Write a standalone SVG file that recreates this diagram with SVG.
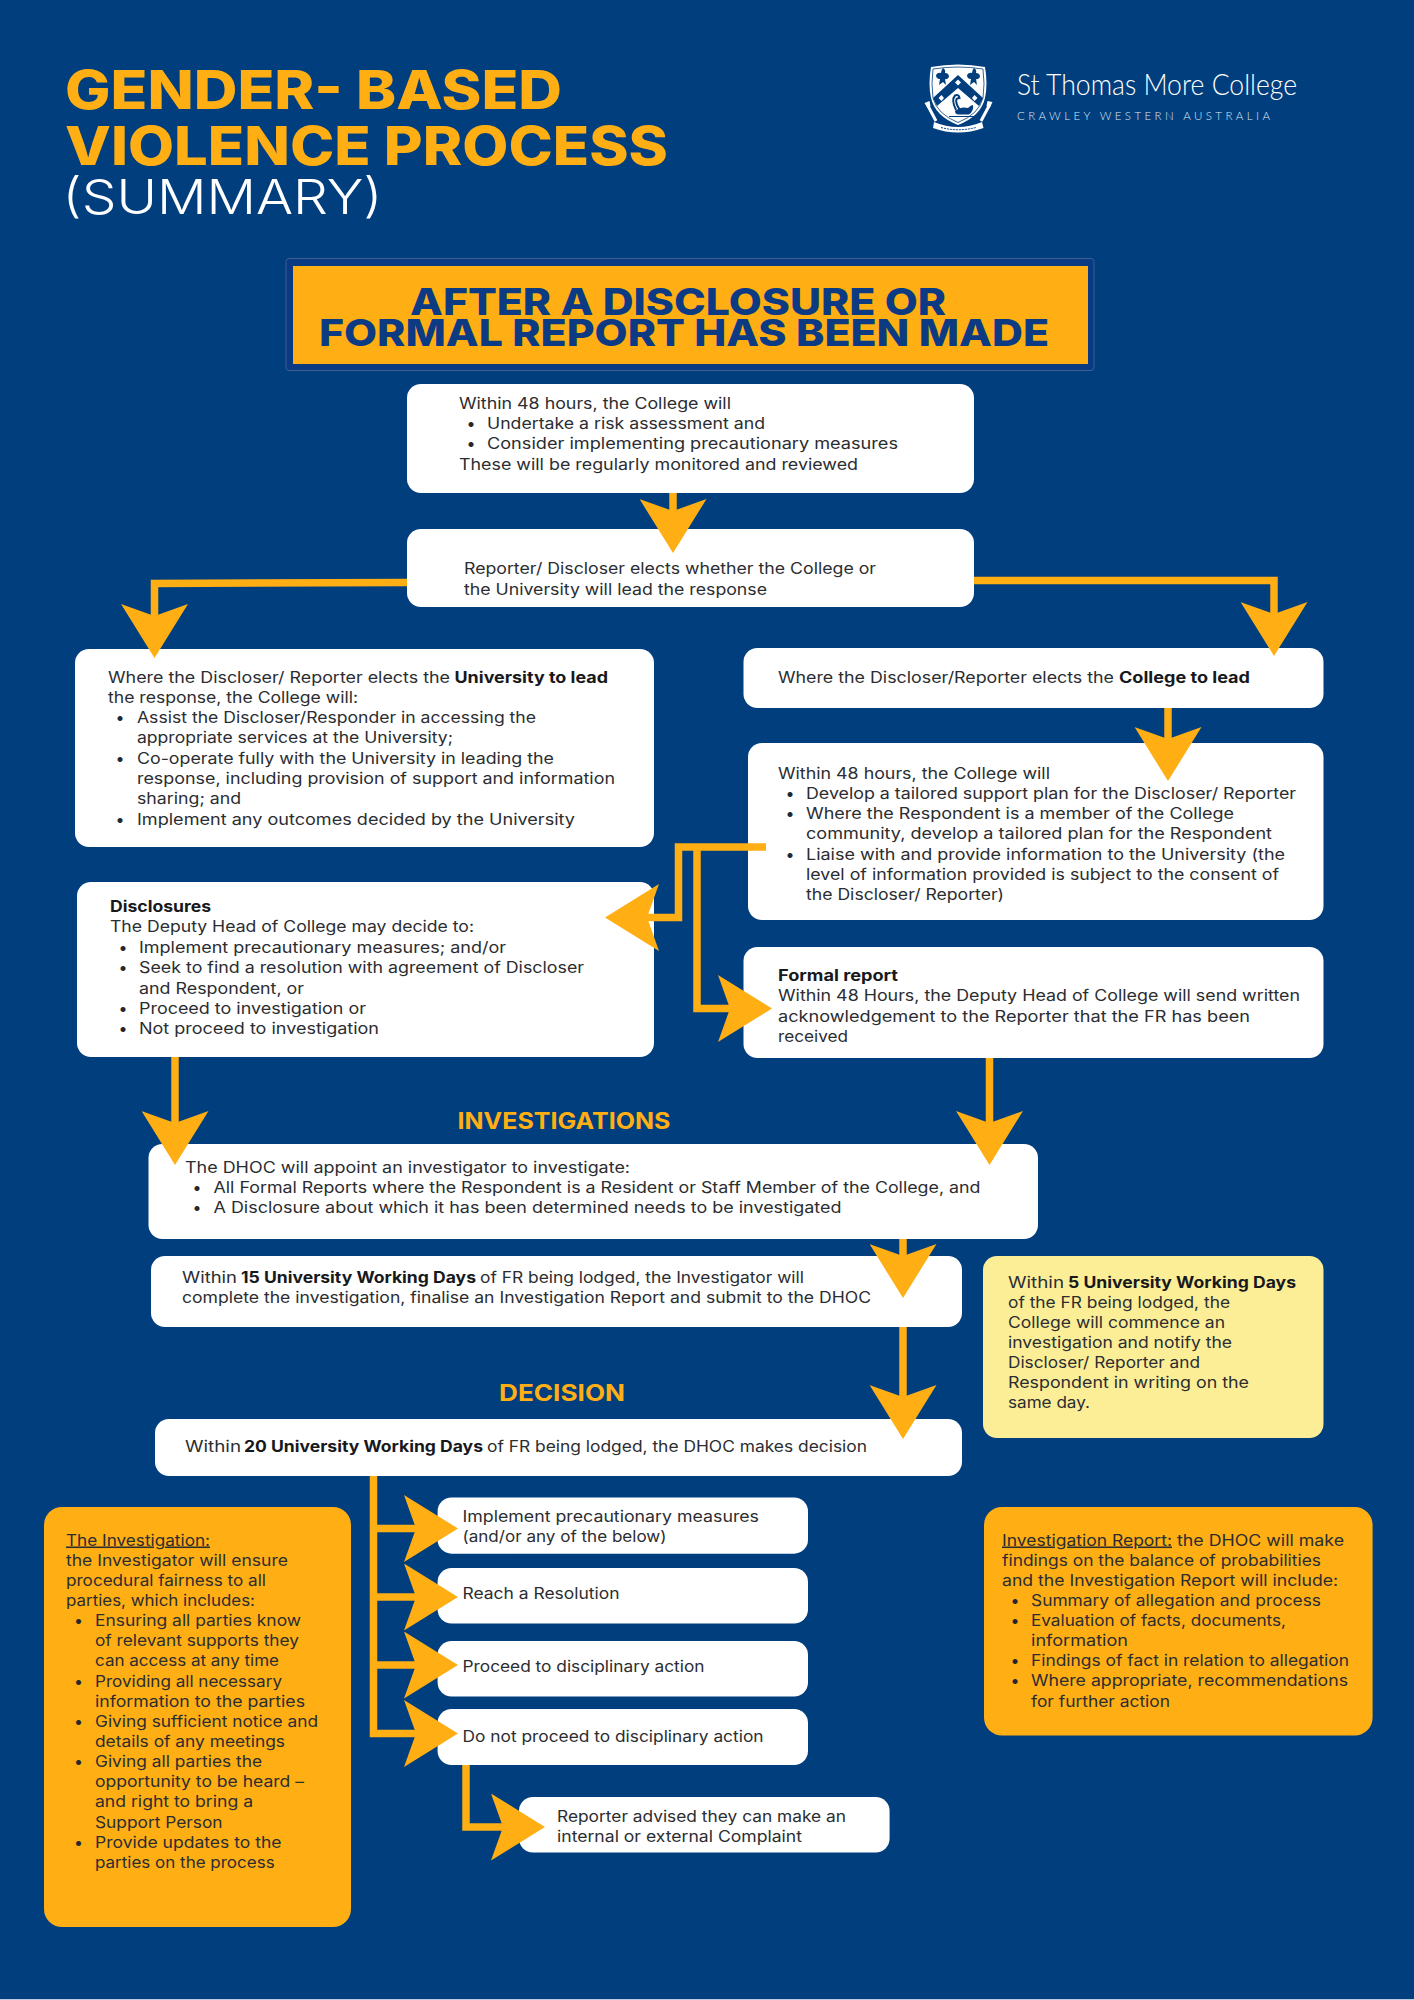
<svg xmlns="http://www.w3.org/2000/svg" width="1414" height="2000" viewBox="0 0 1414 2000">
<style>
text{font-family:"Inter","Noto Sans","Liberation Sans",sans-serif}
.t{font-size:15.5px;font-weight:400;fill:#2b2d31}
.b{font-size:15.5px;font-weight:700;fill:#17191c}
.u{text-decoration:underline}
.dot{font-size:16px;fill:#24272b;text-anchor:middle}
.box{fill:#fff}
.org{fill:#ffae14}
.yel{fill:#fbee97}
.h1{font-size:53.5px;font-weight:800;fill:#ffae14}
.h2{font-size:37px;font-weight:800;fill:#0c3b84}
.h3{font-size:22.5px;font-weight:700;fill:#ffae14}
.c{fill:none;stroke:#ffae14;stroke-width:7.5;stroke-linejoin:miter}
.nv{fill:#003e7e}
.wh{fill:#fff}
</style>
<defs>
<marker id="ah" markerUnits="userSpaceOnUse" viewBox="0 0 54 67" markerWidth="54" markerHeight="67" refX="12" refY="33.5" orient="auto"><path d="M0,0 L54,33.5 L0,67 L12,33.5z" fill="#ffae14"/></marker>
</defs>
<rect width="1414" height="2000" fill="#003e7e"/>
<rect y="1999" width="1414" height="1" fill="#b9cbe0"/>

<g id="title">
<text class="h1" x="65" y="108.500" textLength="497" lengthAdjust="spacingAndGlyphs">GENDER- BASED</text>
<text class="h1" x="65" y="164.500" textLength="603" lengthAdjust="spacingAndGlyphs">VIOLENCE PROCESS</text>
<text x="62.500" y="214" font-size="48" font-weight="300" fill="#fff" textLength="320" lengthAdjust="spacingAndGlyphs">(SUMMARY)</text>
</g>

<g id="logo">
<path class="wh" d="M931,67 Q958,62 985,67 Q988,84 985,98 Q981,116 958,125 Q935,116 931,98 Q928,84 931,67z"/>
<path d="M933,69 Q958,65 983,69 Q985,84 983,98 Q979,114 958,122.500 Q937,114 933,98 Q931,84 933,69z" fill="none" stroke="#003e7e" stroke-width=".8"/>
<path class="nv" d="M958,75 L983,98 L979,106 L958,88 L937,106 L933,98z"/>
<path class="wh" d="M958,79.500 l3,3 l-3,3 l-3,-3z M941.500,95 l2.500,3 l-2.500,3 l-3,-3z M974.500,95 l3,3 l-3,3 l-2.500,-3z"/>
<path class="nv" d="M943,68 q3,2 2,5 q4,0 4,4 q-2,3 -4,2 l1,6 l-3,-3 l-4,3 l1,-6 q-4,0 -4,-4 q2,-3 5,-2 q0,-3 2,-5z M974,68 q3,2 2,5 q4,0 4,4 q-2,3 -4,2 l1,6 l-3,-3 l-4,3 l1,-6 q-4,0 -4,-4 q2,-3 5,-2 q0,-3 2,-5z"/>
<path d="M956,110 Q951,100 955,95.500 Q959,94 959.500,98 Q957,98 956.500,99 Q955,103 960,110" fill="none" stroke="#003e7e" stroke-width="2"/>
<path class="nv" d="M955,111 Q961,106 968,108 Q971,105 973,105 Q974,111 969,114.500 L958,114.500 Q955,114 955,111z"/>
<path d="M949,116.500 H974" stroke="#003e7e" stroke-width="1"/>
<path d="M927,104 L936,121 M990,104 L981,121" fill="none" stroke="#fff" stroke-width="3"/>
<path class="wh" d="M924.500,103 l5,-2 l1,5 l-3,2z M992.500,102 l-5,-1 l-1,5 l3,2z"/>
<path class="wh" d="M934,122 Q958,132 982,122 L983.500,128 Q958,137 933,128z"/>
<path d="M941,127.500 Q958,132 976,127.500" fill="none" stroke="#003e7e" stroke-width="1" stroke-dasharray="2 1"/>
<text x="1017" y="95" font-size="29" font-weight="300" fill="#fff" style="font-family:'Lato','Open Sans',sans-serif" textLength="280" lengthAdjust="spacingAndGlyphs">St Thomas More College</text>
<text x="1017" y="120" font-size="11.5" font-weight="300" fill="#dfe7f1" style="font-family:'Lato','Open Sans',sans-serif" textLength="253">CRAWLEY WESTERN AUSTRALIA</text>
</g>

<g id="banner">
<rect x="286" y="258.500" width="808" height="112" rx="3" fill="#0a3a82" stroke="#3d5f93" stroke-width="1"/>
<rect x="293" y="266" width="795" height="98" class="org"/>
<text class="h2" x="410" y="314.500" textLength="536" lengthAdjust="spacingAndGlyphs">AFTER A DISCLOSURE OR</text>
<text class="h2" x="319" y="345.500" textLength="730" lengthAdjust="spacingAndGlyphs">FORMAL REPORT HAS BEEN MADE</text>
</g>

<g id="n-48h">
<rect class="box" x="407" y="384" width="567" height="109" rx="14"/>
<text class="t" x="459" y="408.500" textLength="272" lengthAdjust="spacingAndGlyphs">Within 48 hours, the College will</text>
<text class="dot" x="471" y="428.500">•</text>
<text class="t" x="487" y="428.500" textLength="278" lengthAdjust="spacingAndGlyphs">Undertake a risk assessment and</text>
<text class="dot" x="471" y="448.500">•</text>
<text class="t" x="487" y="448.500" textLength="411" lengthAdjust="spacingAndGlyphs">Consider implementing precautionary measures</text>
<text class="t" x="459" y="469.500" textLength="399" lengthAdjust="spacingAndGlyphs">These will be regularly monitored and reviewed</text>
</g>

<g id="n-elect">
<rect class="box" x="407" y="529" width="567" height="78" rx="14"/>
<text class="t" x="464" y="574" textLength="412" lengthAdjust="spacingAndGlyphs">Reporter/ Discloser elects whether the College or</text>
<text class="t" x="464" y="594.500" textLength="303" lengthAdjust="spacingAndGlyphs">the University will lead the response</text>
</g>

<g id="n-univ">
<rect class="box" x="75" y="649" width="579" height="198" rx="14"/>
<text class="t" x="108" y="683" textLength="342" lengthAdjust="spacingAndGlyphs">Where the Discloser/ Reporter elects the</text>
<text class="b" x="454.500" y="683" textLength="153.500" lengthAdjust="spacingAndGlyphs">University to lead</text>
<text class="t" x="108" y="703" textLength="250" lengthAdjust="spacingAndGlyphs">the response, the College will:</text>
<text class="dot" x="120" y="723">•</text>
<text class="t" x="137" y="723" textLength="399" lengthAdjust="spacingAndGlyphs">Assist the Discloser/Responder in accessing the</text>
<text class="t" x="137" y="743" textLength="316" lengthAdjust="spacingAndGlyphs">appropriate services at the University;</text>
<text class="dot" x="120" y="763.500">•</text>
<text class="t" x="137" y="763.500" textLength="417" lengthAdjust="spacingAndGlyphs">Co-operate fully with the University in leading the</text>
<text class="t" x="137" y="784" textLength="478" lengthAdjust="spacingAndGlyphs">response, including provision of support and information</text>
<text class="t" x="137" y="804" textLength="104" lengthAdjust="spacingAndGlyphs">sharing; and</text>
<text class="dot" x="120" y="824.500">•</text>
<text class="t" x="137" y="824.500" textLength="438" lengthAdjust="spacingAndGlyphs">Implement any outcomes decided by the University</text>
</g>

<g id="n-college">
<rect class="box" x="743.500" y="648" width="580" height="60" rx="14"/>
<text class="t" x="778" y="682.500" textLength="336" lengthAdjust="spacingAndGlyphs">Where the Discloser/Reporter elects the</text>
<text class="b" x="1119" y="682.500" textLength="131" lengthAdjust="spacingAndGlyphs">College to lead</text>
</g>

<g id="n-support">
<rect class="box" x="748" y="743" width="575.500" height="177" rx="14"/>
<text class="t" x="778" y="779" textLength="272" lengthAdjust="spacingAndGlyphs">Within 48 hours, the College will</text>
<text class="dot" x="790" y="799">•</text>
<text class="t" x="806" y="799" textLength="490" lengthAdjust="spacingAndGlyphs">Develop a tailored support plan for the Discloser/ Reporter</text>
<text class="dot" x="790" y="819">•</text>
<text class="t" x="806" y="819" textLength="428" lengthAdjust="spacingAndGlyphs">Where the Respondent is a member of the College</text>
<text class="t" x="806" y="839" textLength="466" lengthAdjust="spacingAndGlyphs">community, develop a tailored plan for the Respondent</text>
<text class="dot" x="790" y="860">•</text>
<text class="t" x="806" y="860" textLength="479" lengthAdjust="spacingAndGlyphs">Liaise with and provide information to the University (the</text>
<text class="t" x="806" y="880" textLength="473" lengthAdjust="spacingAndGlyphs">level of information provided is subject to the consent of</text>
<text class="t" x="806" y="900" textLength="198" lengthAdjust="spacingAndGlyphs">the Discloser/ Reporter)</text>
</g>

<g id="n-disclosures">
<rect class="box" x="77" y="882" width="577" height="175" rx="14"/>
<text class="b" x="110" y="912" textLength="101" lengthAdjust="spacingAndGlyphs">Disclosures</text>
<text class="t" x="110" y="932" textLength="364" lengthAdjust="spacingAndGlyphs">The Deputy Head of College may decide to:</text>
<text class="dot" x="123" y="953">•</text>
<text class="t" x="139" y="953" textLength="367" lengthAdjust="spacingAndGlyphs">Implement precautionary measures; and/or</text>
<text class="dot" x="123" y="973">•</text>
<text class="t" x="139" y="973" textLength="445" lengthAdjust="spacingAndGlyphs">Seek to find a resolution with agreement of Discloser</text>
<text class="t" x="139" y="993.500" textLength="165" lengthAdjust="spacingAndGlyphs">and Respondent, or</text>
<text class="dot" x="123" y="1014">•</text>
<text class="t" x="139" y="1014" textLength="227" lengthAdjust="spacingAndGlyphs">Proceed to investigation or</text>
<text class="dot" x="123" y="1034">•</text>
<text class="t" x="139" y="1034" textLength="240" lengthAdjust="spacingAndGlyphs">Not proceed to investigation</text>
</g>

<g id="n-formal">
<rect class="box" x="743.500" y="947" width="580" height="111" rx="14"/>
<text class="b" x="778" y="981" textLength="120" lengthAdjust="spacingAndGlyphs">Formal report</text>
<text class="t" x="778" y="1001" textLength="522" lengthAdjust="spacingAndGlyphs">Within 48 Hours, the Deputy Head of College will send written</text>
<text class="t" x="778" y="1022" textLength="472" lengthAdjust="spacingAndGlyphs">acknowledgement to the Reporter that the FR has been</text>
<text class="t" x="778" y="1042" textLength="70" lengthAdjust="spacingAndGlyphs">received</text>
</g>

<text id="h-investigations" class="h3" x="457.500" y="1128.500" textLength="213" lengthAdjust="spacingAndGlyphs">INVESTIGATIONS</text>

<g id="n-appoint">
<rect class="box" x="148.500" y="1144" width="889.500" height="95" rx="14"/>
<text class="t" x="185" y="1173" textLength="445" lengthAdjust="spacingAndGlyphs">The DHOC will appoint an investigator to investigate:</text>
<text class="dot" x="197" y="1193">•</text>
<text class="t" x="213.500" y="1193" textLength="767" lengthAdjust="spacingAndGlyphs">All Formal Reports where the Respondent is a Resident or Staff Member of the College, and</text>
<text class="dot" x="197" y="1213">•</text>
<text class="t" x="213.500" y="1213" textLength="628" lengthAdjust="spacingAndGlyphs">A Disclosure about which it has been determined needs to be investigated</text>
</g>

<g id="n-15days">
<rect class="box" x="151" y="1256" width="811" height="71" rx="14"/>
<text class="t" x="182" y="1283" textLength="55" lengthAdjust="spacingAndGlyphs">Within</text>
<text class="b" x="241" y="1283" textLength="235" lengthAdjust="spacingAndGlyphs">15 University Working Days</text>
<text class="t" x="480" y="1283" textLength="324" lengthAdjust="spacingAndGlyphs">of FR being lodged, the Investigator will</text>
<text class="t" x="182" y="1303" textLength="689" lengthAdjust="spacingAndGlyphs">complete the investigation, finalise an Investigation Report and submit to the DHOC</text>
</g>

<g id="n-5days">
<rect class="yel" x="983" y="1256" width="340.500" height="182" rx="14"/>
<text class="t" x="1008" y="1288" textLength="56" lengthAdjust="spacingAndGlyphs">Within</text>
<text class="b" x="1068" y="1288" textLength="228" lengthAdjust="spacingAndGlyphs">5 University Working Days</text>
<text class="t" x="1008" y="1308" textLength="222" lengthAdjust="spacingAndGlyphs">of the FR being lodged, the</text>
<text class="t" x="1008" y="1328" textLength="217" lengthAdjust="spacingAndGlyphs">College will commence an</text>
<text class="t" x="1008" y="1348" textLength="224" lengthAdjust="spacingAndGlyphs">investigation and notify the</text>
<text class="t" x="1008" y="1368" textLength="192" lengthAdjust="spacingAndGlyphs">Discloser/ Reporter and</text>
<text class="t" x="1008" y="1388" textLength="241" lengthAdjust="spacingAndGlyphs">Respondent in writing on the</text>
<text class="t" x="1008" y="1408" textLength="82" lengthAdjust="spacingAndGlyphs">same day.</text>
</g>

<text id="h-decision" class="h3" x="499" y="1400.500" textLength="126" lengthAdjust="spacingAndGlyphs">DECISION</text>

<g id="n-20days">
<rect class="box" x="155" y="1419" width="807" height="57" rx="14"/>
<text class="t" x="185" y="1451.500" textLength="56" lengthAdjust="spacingAndGlyphs">Within</text>
<text class="b" x="244" y="1451.500" textLength="239" lengthAdjust="spacingAndGlyphs">20 University Working Days</text>
<text class="t" x="487" y="1451.500" textLength="380" lengthAdjust="spacingAndGlyphs">of FR being lodged, the DHOC makes decision</text>
</g>

<g id="n-investigation">
<rect class="org" x="44" y="1507" width="307" height="420" rx="18"/>
<text class="t u" x="66" y="1545.500" textLength="144" lengthAdjust="spacingAndGlyphs">The Investigation:</text>
<text class="t" x="66" y="1566" textLength="222" lengthAdjust="spacingAndGlyphs">the Investigator will ensure</text>
<text class="t" x="66" y="1586" textLength="200" lengthAdjust="spacingAndGlyphs">procedural fairness to all</text>
<text class="t" x="66" y="1606" textLength="189" lengthAdjust="spacingAndGlyphs">parties, which includes:</text>
<text class="dot" x="78.500" y="1626">•</text>
<text class="t" x="95" y="1626" textLength="206" lengthAdjust="spacingAndGlyphs">Ensuring all parties know</text>
<text class="t" x="95" y="1646" textLength="204" lengthAdjust="spacingAndGlyphs">of relevant supports they</text>
<text class="t" x="95" y="1666" textLength="184" lengthAdjust="spacingAndGlyphs">can access at any time</text>
<text class="dot" x="78.500" y="1686.500">•</text>
<text class="t" x="95" y="1686.500" textLength="187" lengthAdjust="spacingAndGlyphs">Providing all necessary</text>
<text class="t" x="95" y="1707" textLength="210" lengthAdjust="spacingAndGlyphs">information to the parties</text>
<text class="dot" x="78.500" y="1727">•</text>
<text class="t" x="95" y="1727" textLength="223" lengthAdjust="spacingAndGlyphs">Giving sufficient notice and</text>
<text class="t" x="95" y="1747" textLength="190" lengthAdjust="spacingAndGlyphs">details of any meetings</text>
<text class="dot" x="78.500" y="1767">•</text>
<text class="t" x="95" y="1767" textLength="167" lengthAdjust="spacingAndGlyphs">Giving all parties the</text>
<text class="t" x="95" y="1787" textLength="209" lengthAdjust="spacingAndGlyphs">opportunity to be heard –</text>
<text class="t" x="95" y="1807" textLength="158" lengthAdjust="spacingAndGlyphs">and right to bring a</text>
<text class="t" x="95" y="1828" textLength="127.500" lengthAdjust="spacingAndGlyphs">Support Person</text>
<text class="dot" x="78.500" y="1848">•</text>
<text class="t" x="95" y="1848" textLength="186.500" lengthAdjust="spacingAndGlyphs">Provide updates to the</text>
<text class="t" x="95" y="1868" textLength="179.600" lengthAdjust="spacingAndGlyphs">parties on the process</text>
</g>

<g id="n-report">
<rect class="org" x="984" y="1507" width="388.600" height="228.500" rx="18"/>
<text class="t u" x="1002" y="1545.500" textLength="170" lengthAdjust="spacingAndGlyphs">Investigation Report:</text>
<text class="t" x="1177" y="1545.500" textLength="167" lengthAdjust="spacingAndGlyphs">the DHOC will make</text>
<text class="t" x="1002" y="1566" textLength="319" lengthAdjust="spacingAndGlyphs">findings on the balance of probabilities</text>
<text class="t" x="1002" y="1586" textLength="336" lengthAdjust="spacingAndGlyphs">and the Investigation Report will include:</text>
<text class="dot" x="1015" y="1606">•</text>
<text class="t" x="1031" y="1606" textLength="290" lengthAdjust="spacingAndGlyphs">Summary of allegation and process</text>
<text class="dot" x="1015" y="1626">•</text>
<text class="t" x="1031" y="1626" textLength="255" lengthAdjust="spacingAndGlyphs">Evaluation of facts, documents,</text>
<text class="t" x="1031" y="1646" textLength="97" lengthAdjust="spacingAndGlyphs">information</text>
<text class="dot" x="1015" y="1666">•</text>
<text class="t" x="1031" y="1666" textLength="318" lengthAdjust="spacingAndGlyphs">Findings of fact in relation to allegation</text>
<text class="dot" x="1015" y="1686">•</text>
<text class="t" x="1031" y="1686" textLength="317" lengthAdjust="spacingAndGlyphs">Where appropriate, recommendations</text>
<text class="t" x="1031" y="1707" textLength="139" lengthAdjust="spacingAndGlyphs">for further action</text>
</g>

<g id="n-implement">
<rect class="box" x="437.600" y="1497.500" width="370.400" height="56.200" rx="14"/>
<text class="t" x="462.500" y="1521.500" textLength="296.500" lengthAdjust="spacingAndGlyphs">Implement precautionary measures</text>
<text class="t" x="462.500" y="1541.500" textLength="204" lengthAdjust="spacingAndGlyphs">(and/or any of the below)</text>
</g>
<g id="n-resolution">
<rect class="box" x="437.600" y="1568" width="370.400" height="55.600" rx="14"/>
<text class="t" x="462.500" y="1598.500" textLength="157" lengthAdjust="spacingAndGlyphs">Reach a Resolution</text>
</g>
<g id="n-proceed">
<rect class="box" x="437.600" y="1641" width="370.400" height="55.600" rx="14"/>
<text class="t" x="462.500" y="1671.500" textLength="242" lengthAdjust="spacingAndGlyphs">Proceed to disciplinary action</text>
</g>
<g id="n-notproceed">
<rect class="box" x="437.600" y="1709" width="370.400" height="56" rx="14"/>
<text class="t" x="462.500" y="1741.500" textLength="301" lengthAdjust="spacingAndGlyphs">Do not proceed to disciplinary action</text>
</g>
<g id="n-complaint">
<rect class="box" x="519" y="1797" width="370.600" height="55.600" rx="14"/>
<text class="t" x="557" y="1821.600" textLength="289" lengthAdjust="spacingAndGlyphs">Reporter advised they can make an</text>
<text class="t" x="557" y="1841.500" textLength="245" lengthAdjust="spacingAndGlyphs">internal or external Complaint</text>
</g>

<g id="connectors">
<polyline class="c" marker-end="url(#ah)" points="673,493 673,511"/>
<polyline class="c" marker-end="url(#ah)" points="407,582.500 154.500,583.500 154.500,616"/>
<polyline class="c" marker-end="url(#ah)" points="974,580.500 1274,580.500 1274,614"/>
<polyline class="c" marker-end="url(#ah)" points="1168,708 1168,739"/>
<polyline class="c" marker-end="url(#ah)" points="766,847 678.500,847 678.500,917.500 647,917.500"/>
<polyline class="c" marker-end="url(#ah)" points="697,847 697,1008.500 730,1008.500"/>
<polyline class="c" marker-end="url(#ah)" points="175,1057 175,1123"/>
<polyline class="c" marker-end="url(#ah)" points="989.500,1058 989.500,1123"/>
<polyline class="c" marker-end="url(#ah)" points="903,1239 903,1256"/>
<polyline class="c" marker-end="url(#ah)" points="903,1327 903,1397"/>
<polyline class="c" points="373.500,1476 373.500,1737"/>
<polyline class="c" marker-end="url(#ah)" points="373.500,1528.500 416,1528.500"/>
<polyline class="c" marker-end="url(#ah)" points="373.500,1597 416,1597"/>
<polyline class="c" marker-end="url(#ah)" points="373.500,1665 416,1665"/>
<polyline class="c" marker-end="url(#ah)" points="370,1733.500 416,1733.500"/>
<polyline class="c" marker-end="url(#ah)" points="466,1765 466,1827 503,1827"/>
</g>
</svg>
